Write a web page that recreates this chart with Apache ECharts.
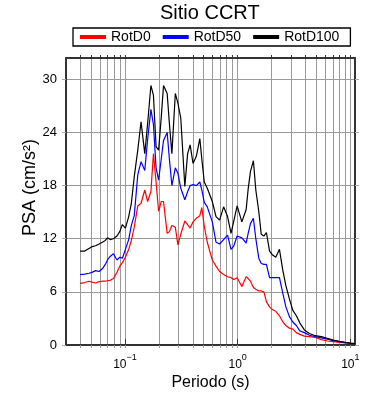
<!DOCTYPE html>
<html>
<head>
<meta charset="utf-8">
<script src="https://cdn.jsdelivr.net/npm/echarts@6/dist/echarts.min.js"></script>
<style>html,body{margin:0;padding:0;background:#fff}#c{width:390px;height:400px}</style>
</head>
<body>
<div id="c"></div>
<script>
const periods = [0.040,0.044,0.048,0.051,0.055,0.059,0.063,0.067,0.070,0.074,0.079,0.085,0.090,0.095,0.101,0.108,0.114,0.121,0.130,0.139,0.150,0.159,0.170,0.179,0.189,0.199,0.210,0.220,0.237,0.248,0.261,0.280,0.295,0.313,0.340,0.360,0.379,0.402,0.430,0.462,0.481,0.506,0.538,0.596,0.643,0.692,0.751,0.814,0.874,0.925,0.990,1.09,1.19,1.24,1.30,1.38,1.45,1.54,1.62,1.71,1.80,1.92,2.03,2.18,2.35,2.52,2.68,2.88,3.09,3.32,3.56,3.91,4.33,4.89,5.53,6.25,7.07,7.99,9.03,10.0,11.0];
const rotD100 = [10.6,10.6,10.9,11.1,11.2,11.4,11.6,11.8,12.1,11.9,12.0,12.3,12.8,13.6,13.2,14.5,16.0,19.0,22.0,25.2,21.6,25.0,29.3,28.2,22.4,22.0,25.7,29.3,28.4,25.0,21.6,28.4,27.3,25.6,17.9,21.6,22.6,20.5,21.3,23.3,21.0,18.4,17.7,16.2,14.5,14.1,15.6,14.5,12.6,14.0,15.7,13.9,15.3,17.6,19.6,20.8,17.5,15.1,12.5,12.3,12.7,10.6,10.2,9.9,10.8,8.4,6.7,5.2,3.9,3.3,2.5,1.7,1.3,1.05,0.95,0.75,0.55,0.42,0.3,0.22,0.17];
const rotD50 = [7.95,8.0,8.1,8.2,8.4,8.3,8.6,9.1,9.6,10.0,10.3,9.6,9.9,9.8,10.8,11.9,13.5,14.6,19.2,20.7,19.7,23.2,26.6,24.9,20.0,18.6,21.0,23.1,24.0,21.0,18.0,20.0,19.4,17.7,16.4,17.3,18.0,18.1,18.0,18.4,17.5,16.1,15.6,13.9,11.6,11.4,11.9,12.4,10.8,11.2,12.3,12.1,11.5,12.6,13.7,14.3,12.0,9.8,9.2,9.1,9.1,7.6,7.6,7.6,7.6,5.8,4.3,3.2,2.6,2.2,1.6,1.4,1.1,0.95,0.8,0.65,0.5,0.38,0.27,0.2,0.15];
const rotD0 = [6.95,7.05,7.2,7.1,7.0,7.15,7.2,7.2,7.25,7.3,7.5,8.2,8.9,9.3,9.9,10.8,11.8,13.3,15.7,16.0,17.5,16.2,17.3,21.6,18.4,15.1,16.2,16.2,12.6,12.8,13.5,13.3,11.3,12.5,14.0,13.6,13.2,13.9,14.3,14.6,15.5,13.4,11.6,9.6,8.9,8.3,7.95,7.7,7.6,7.4,7.6,6.6,7.7,7.5,7.2,6.5,6.3,6.1,6.1,6.0,4.9,4.3,4.0,3.8,3.3,2.6,2.2,1.9,1.8,1.4,1.2,1.0,0.95,0.85,0.6,0.45,0.38,0.3,0.24,0.2,0.15];
const seriesNames = ['RotD0','RotD50','RotD100'];
const seriesColors = ['#ff0000','#0000ff','#000000'];
const minorTicks = [0.04,0.05,0.06,0.07,0.08,0.09,0.1,0.2,0.3,0.4,0.5,0.6,0.7,0.8,0.9,1,2,3,4,5,6,7,8,9,10];
const majorTicks = [0.1,1,10];
const yTicks = [0,6,12,18,24,30];

const FONT = 'Liberation Sans';
const chart = echarts.init(document.getElementById('c'), null, {renderer:'canvas'});
const pair = vals => periods.map((p,i)=>[p, vals[i]]);
const allVals = [rotD0, rotD50, rotD100];
function supLabel(v){
  const e = Math.round(Math.log10(v));
  return '{a|10}{b|' + (e<0 ? '\u2212' + String(-e) : String(e)) + '}';
}
const xBase = {type:'log', logBase:10, min:0.03, max:11, gridIndex:0};
const option = {
  animation:false,
  textStyle:{fontFamily:FONT},
  title:{text:'Sitio CCRT', left:160, top:3, padding:0, textStyle:{fontFamily:FONT, fontSize:20, fontWeight:'normal', color:'#000'}},
  legend:{data:seriesNames, left:73, top:28, icon:'rect', itemWidth:26, itemHeight:4, itemGap:12,
    padding:[2,11,2,7], borderColor:'#000', borderWidth:1.3,
    textStyle:{fontFamily:FONT, fontSize:14, color:'#000'}},
  grid:{left:66, right:35, top:58, bottom:55},
  xAxis:[
    Object.assign({}, xBase, {position:'bottom', name:'Periodo (s)', nameLocation:'middle', nameGap:30,
      nameMoveOverlap:false,
      nameTextStyle:{fontFamily:FONT, fontSize:16, color:'#000'},
      axisLine:{show:true, onZero:false, lineStyle:{color:'#333', width:2}},
      axisTick:{show:true, customValues:minorTicks, length:3, lineStyle:{color:'#999'}},
      axisLabel:{show:true, customValues:majorTicks, margin:8, formatter:supLabel,
        rich:{a:{fontFamily:FONT, fontSize:12, color:'#000', padding:[6,0,0,0]}, b:{fontFamily:FONT, fontSize:9, color:'#000', verticalAlign:'top'}}},
      splitLine:{show:true, lineStyle:{color:'#999', width:1}}, minorTick:{show:false}}),
    Object.assign({}, xBase, {position:'top',
      axisLine:{show:true, onZero:false, lineStyle:{color:'#333', width:2}},
      axisTick:{show:true, customValues:minorTicks, length:3, lineStyle:{color:'#333'}},
      axisLabel:{show:false}, splitLine:{show:false}}),
    Object.assign({}, xBase, {position:'top',
      axisLine:{show:false},
      axisTick:{show:true, customValues:majorTicks, length:6, lineStyle:{color:'#333'}},
      axisLabel:{show:false}, splitLine:{show:false}})
  ],
  yAxis:[
    {type:'value', min:0, max:32.4, interval:6, position:'left',
      name:'PSA (cm/s\u00b2)', nameLocation:'middle', nameGap:27, nameMoveOverlap:false,
      nameTextStyle:{fontFamily:FONT, fontSize:18, color:'#000', padding:[0,0,0,28]},
      axisLine:{show:true, lineStyle:{color:'#333', width:2}},
      axisTick:{show:true, customValues:yTicks, length:4, lineStyle:{color:'#aaa'}},
      axisLabel:{show:true, customValues:yTicks, margin:9, fontFamily:FONT, fontSize:13, color:'#000'},
      splitLine:{show:true, lineStyle:{color:'#999', width:1}}},
    {type:'value', min:0, max:32.4, interval:6, position:'right',
      axisLine:{show:true, lineStyle:{color:'#333', width:2}},
      axisTick:{show:true, customValues:yTicks, length:4, lineStyle:{color:'#aaa'}},
      axisLabel:{show:false}, splitLine:{show:false}}
  ],
  series: seriesNames.map((n,i)=>({
    name:n, type:'line', xAxisIndex:0, yAxisIndex:0, data:pair(allVals[i]),
    showSymbol:false, symbol:'none', color:seriesColors[i],
    lineStyle:{color:seriesColors[i], width:1.2}, z:2+i
  }))
};
chart.setOption(option);
</script>
</body>
</html>
